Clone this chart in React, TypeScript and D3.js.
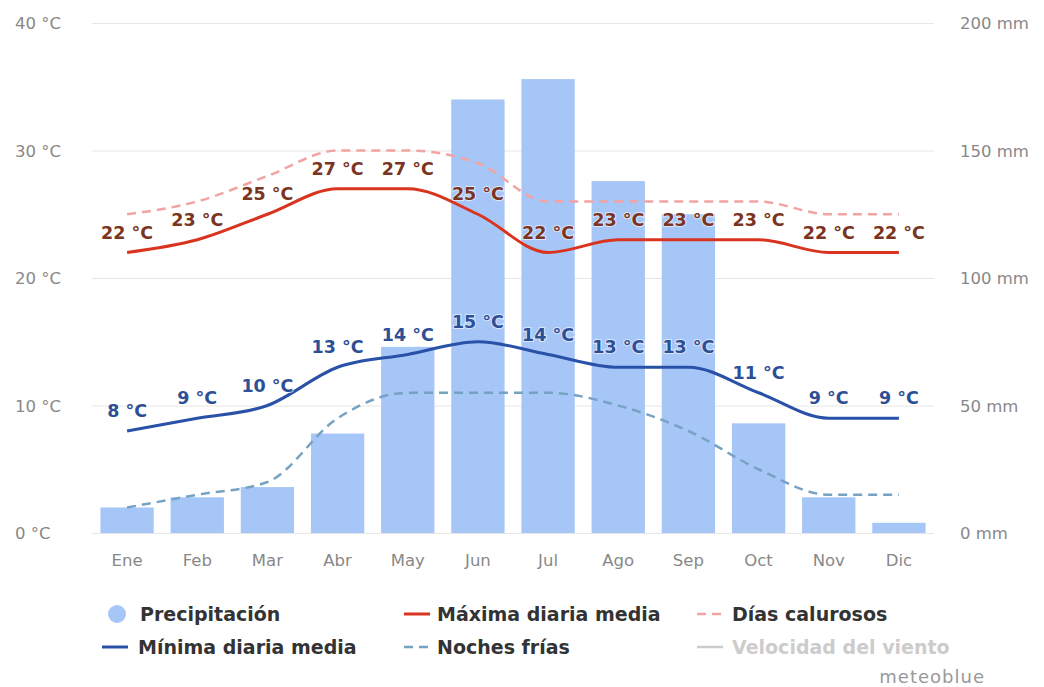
import React, { useEffect, useRef } from 'react';
import * as d3 from 'd3';

const months = ['Ene', 'Feb', 'Mar', 'Abr', 'May', 'Jun', 'Jul', 'Ago', 'Sep', 'Oct', 'Nov', 'Dic'];
const precipitation = [10, 14, 18, 39, 73, 170, 178, 138, 125, 43, 14, 4];
const maxDaily = [22, 23, 25, 27, 27, 25, 22, 23, 23, 23, 22, 22];
const minDaily = [8, 9, 10, 13, 14, 15, 14, 13, 13, 11, 9, 9];
const hotDays = [25, 26, 28, 30, 30, 29, 26, 26, 26, 26, 25, 25];
const coldNights = [2, 3, 4, 9, 11, 11, 11, 10, 8, 5, 3, 3];
const tempTicks = [0, 10, 20, 30, 40];
const precTicks = [0, 50, 100, 150, 200];

const FONT = '"DejaVu Sans", sans-serif';

const App = () => {
  const svgRef = useRef<SVGSVGElement | null>(null);

  useEffect(() => {
    const svg = d3.select(svgRef.current);
    svg.selectAll('*').remove();

    const left = 92, right = 934, top = 23, bottom = 533;

    const x = d3.scaleBand().domain(months).range([left, right]).paddingInner(0.24).paddingOuter(0.12);
    const xc = (m: string) => (x(m) as number) + x.bandwidth() / 2;
    const yT = d3.scaleLinear().domain([0, 40]).range([bottom, top]);
    const yP = d3.scaleLinear().domain([0, 200]).range([bottom, top]);

    // grid
    svg.append('g').selectAll('line').data(tempTicks).enter().append('line')
      .attr('x1', left).attr('x2', right)
      .attr('y1', d => yT(d) + 0.5).attr('y2', d => yT(d) + 0.5)
      .attr('stroke', '#e6e6e6').attr('stroke-width', 1);

    // left axis labels
    svg.append('g').selectAll('text').data(tempTicks).enter().append('text')
      .attr('x', 15).attr('y', d => yT(d) + 6)
      .attr('font-family', FONT).attr('font-size', 16.5).attr('fill', '#888')
      .text(d => `${d} °C`);

    // right axis labels
    svg.append('g').selectAll('text').data(precTicks).enter().append('text')
      .attr('x', 960).attr('y', d => yP(d) + 6)
      .attr('font-family', FONT).attr('font-size', 16.5).attr('fill', '#888')
      .text(d => `${d} mm`);

    // month labels
    svg.append('g').selectAll('text').data(months).enter().append('text')
      .attr('x', d => xc(d)).attr('y', 566)
      .attr('text-anchor', 'middle')
      .attr('font-family', FONT).attr('font-size', 16.5).attr('fill', '#888')
      .text(d => d);

    // bars
    svg.append('g').selectAll('rect').data(precipitation).enter().append('rect')
      .attr('x', (d, i) => x(months[i]) as number)
      .attr('width', x.bandwidth())
      .attr('y', d => yP(d))
      .attr('height', d => bottom - yP(d))
      .attr('fill', '#a6c6f7');

    const line = (vals: number[]) => d3.line<number>()
      .x((d, i) => xc(months[i]))
      .y(d => yT(d))
      .curve(d3.curveMonotoneX)(vals);

    svg.append('path').attr('d', line(hotDays)).attr('fill', 'none')
      .attr('stroke', '#f2a3a3').attr('stroke-width', 2.5).attr('stroke-dasharray', '9,6');
    svg.append('path').attr('d', line(coldNights)).attr('fill', 'none')
      .attr('stroke', '#76a2c4').attr('stroke-width', 2.5).attr('stroke-dasharray', '9,6');
    svg.append('path').attr('d', line(maxDaily)).attr('fill', 'none')
      .attr('stroke', '#d9341f').attr('stroke-width', 3);
    svg.append('path').attr('d', line(minDaily)).attr('fill', 'none')
      .attr('stroke', '#2a51a8').attr('stroke-width', 3);

    const labels = (vals: number[], color: string) => {
      svg.append('g').selectAll('text').data(vals).enter().append('text')
        .attr('x', (d, i) => xc(months[i]))
        .attr('y', d => yT(d) - 14)
        .attr('text-anchor', 'middle')
        .attr('font-family', FONT).attr('font-size', 17.5).attr('font-weight', 'bold')
        .attr('fill', color)
        .attr('stroke', 'rgba(255,255,255,0.6)').attr('stroke-width', 2)
        .attr('paint-order', 'stroke')
        .text(d => `${d} °C`);
    };
    labels(maxDaily, '#7a3422');
    labels(minDaily, '#2d4f96');

    // legend
    const lg = svg.append('g').attr('font-family', FONT).attr('font-size', 19).attr('font-weight', 'bold');
    const row1 = 614, row2 = 647;
    lg.append('circle').attr('cx', 117).attr('cy', row1).attr('r', 9).attr('fill', '#a6c6f7');
    lg.append('text').attr('x', 140).attr('y', row1 + 7).attr('fill', '#333').text('Precipitación');

    lg.append('line').attr('x1', 404).attr('x2', 430).attr('y1', row1).attr('y2', row1)
      .attr('stroke', '#d9341f').attr('stroke-width', 3);
    lg.append('text').attr('x', 437).attr('y', row1 + 7).attr('fill', '#333').text('Máxima diaria media');

    lg.append('line').attr('x1', 697).attr('x2', 723).attr('y1', row1).attr('y2', row1)
      .attr('stroke', '#f2a3a3').attr('stroke-width', 2.5).attr('stroke-dasharray', '9,6');
    lg.append('text').attr('x', 732).attr('y', row1 + 7).attr('fill', '#333').text('Días calurosos');

    lg.append('line').attr('x1', 102).attr('x2', 128).attr('y1', row2).attr('y2', row2)
      .attr('stroke', '#2a51a8').attr('stroke-width', 3);
    lg.append('text').attr('x', 138).attr('y', row2 + 7).attr('fill', '#333').text('Mínima diaria media');

    lg.append('line').attr('x1', 404).attr('x2', 430).attr('y1', row2).attr('y2', row2)
      .attr('stroke', '#76a2c4').attr('stroke-width', 2.5).attr('stroke-dasharray', '9,6');
    lg.append('text').attr('x', 437).attr('y', row2 + 7).attr('fill', '#333').text('Noches frías');

    lg.append('line').attr('x1', 697).attr('x2', 723).attr('y1', row2).attr('y2', row2)
      .attr('stroke', '#cccccc').attr('stroke-width', 2.5);
    lg.append('text').attr('x', 732).attr('y', row2 + 7).attr('fill', '#cccccc').text('Velocidad del viento');

    svg.append('text').attr('x', 985).attr('y', 683).attr('text-anchor', 'end')
      .attr('font-family', FONT).attr('font-size', 18).attr('letter-spacing', 1).attr('fill', '#999').text('meteoblue');
  }, []);

  return (
    <svg ref={svgRef} width={1044} height={687}
      style={{ position: 'absolute', left: 0, top: 0, background: '#fff' }} />
  );
};

export default App;
